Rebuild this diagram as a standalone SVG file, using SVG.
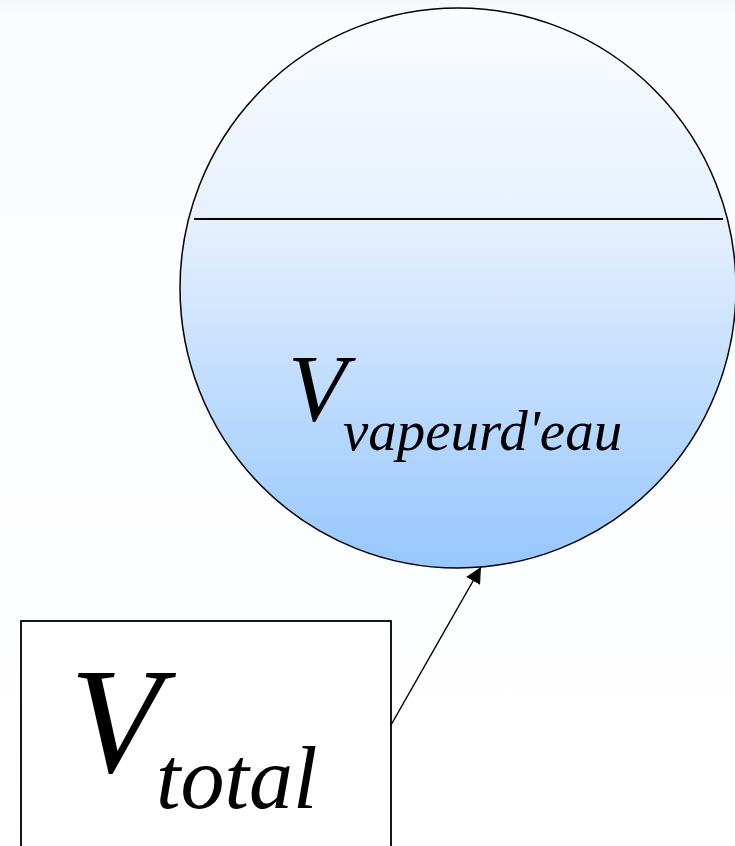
<svg xmlns="http://www.w3.org/2000/svg" width="735" height="846" viewBox="0 0 735 846">
<style>
text{font-family:'Liberation Serif','Times New Roman',serif;font-style:italic;fill:#000}
.s{stroke:#000;fill:none}
</style>
<defs>
<linearGradient id="bg" x1="0" y1="0" x2="0" y2="1">
<stop offset="0" stop-color="#f6f8fc"/>
<stop offset="0.03" stop-color="#fafcff"/>
<stop offset="1" stop-color="#ffffff"/>
</linearGradient>
<linearGradient id="liq" x1="0" y1="0" x2="0" y2="1">
<stop offset="0" stop-color="#fbfdff"/>
<stop offset="0.38" stop-color="#e6f0fd"/>
<stop offset="1" stop-color="#96c7fe"/>
</linearGradient>
<marker id="ah" viewBox="0 0 10 10" refX="10" refY="5" markerWidth="16" markerHeight="16" markerUnits="userSpaceOnUse" orient="auto">
<path d="M0,0 L10,5 L0,10 Z" fill="#000"/>
</marker>
</defs>
<rect width="735" height="846" fill="url(#bg)"/>
<g id="tank">
<ellipse cx="458" cy="288" rx="278" ry="280" stroke="#000" stroke-width="1.5" fill="url(#liq)"/>
<line x1="194" y1="219" x2="723" y2="219" class="s" stroke-width="1.8"/>
<text x="288" y="421" font-size="96">V</text>
<text x="343" y="450" font-size="57">vapeurd'eau</text>
</g>
<g id="total">
<rect x="21" y="621" width="370" height="240" fill="#fff" stroke="#000" stroke-width="1.8"/>
<text x="70" y="772" font-size="150">V</text>
<text x="156" y="808" font-size="88">total</text>
</g>
<g id="connectors">
<line x1="391" y1="725" x2="481" y2="567" class="s" stroke-width="1.5" marker-end="url(#ah)"/>
</g>
</svg>
